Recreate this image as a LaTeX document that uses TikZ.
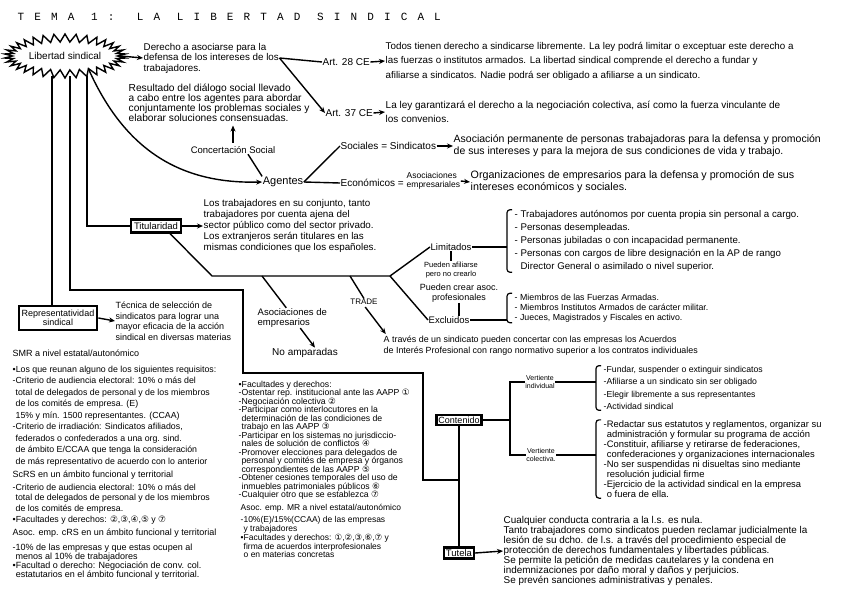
\documentclass[tikz,border=0pt]{standalone}
\usepackage{fontspec}
\setmainfont{Liberation Sans}
\newfontfamily\monofont{Liberation Mono}
\newfontfamily\circfont{DejaVu Sans}
\usepackage{tikz}
\usetikzlibrary{calc, arrows.meta, shapes.symbols}

\newcommand{\cn}[1]{{\circfont #1}}
\newcommand{\fs}[2]{\fontsize{#1}{#2}\selectfont}

\begin{document}
\begin{tikzpicture}[x=1pt, y=-1pt, >={Stealth[length=6pt, width=5pt]}, line width=1.4pt,
    txt/.style={align=left, inner sep=0pt},
    box/.style={draw, line width=2.2pt, inner sep=3pt, align=center},
    brk/.style={rounded corners=3pt, line width=1.2pt}]
    \useasboundingbox (0,0) rectangle (848,599);

    \node[anchor=west, inner sep=0pt, font=\monofont\fs{11}{12}\addfontfeature{LetterSpace=92}] (title) at (17,17) {TEMA 1: LA LIBERTAD SINDICAL};

    % libertad sindical y derecho
    \node[starburst, draw, starburst points=34, starburst point height=8pt, random starburst=0,
          minimum width=108pt, minimum height=44pt, inner sep=1pt, font=\fs{10}{11}] (lib) at (65,56) {Libertad sindical};
    \node[txt, anchor=west, font=\fs{9.8}{10.5}] (der) at (143,58) {Derecho a asociarse para la\\defensa de los intereses de los\\trabajadores.};
    \node[txt, anchor=west, font=\fs{10}{12}] (art28) at (322,62) {Art. 28 CE};
    \node[txt, anchor=west, font=\fs{10}{12}] (art37) at (325,113) {Art. 37 CE};
    \node[txt, anchor=west, font=\fs{9.8}{14.5}] (todos) at (385,61) {Todos tienen derecho a sindicarse libremente. La ley podrá limitar o exceptuar este derecho a\\las fuerzas o institutos armados. La libertad sindical comprende el derecho a fundar y\\afiliarse a sindicatos. Nadie podrá ser obligado a afiliarse a un sindicato.};
    \node[txt, anchor=west, font=\fs{10}{14.5}] (ley) at (385,112) {La ley garantizará el derecho a la negociación colectiva, así como la fuerza vinculante de\\los convenios.};

    \draw[->] (lib.east) -- (der.west);
    \draw (der.east) -- (art28.west);
    \draw[->] (der.east) -- (art37.west);
    \draw[->] (art28.east) -- (todos.west);
    \draw[->] (art37.east) -- (ley.west);

    % agentes
    \node[txt, anchor=west, font=\fs{10.2}{10}] (resul) at (128,103) {Resultado del diálogo social llevado\\a cabo entre los agentes para abordar\\conjuntamente los problemas sociales y\\elaborar soluciones consensuadas.};
    \node[txt, font=\fs{9.5}{11}] (conc) at (233,150) {Concertación Social};
    \node[txt, font=\fs{11}{12}] (agen) at (283,182) {Agentes};
    \node[txt, anchor=west, font=\fs{10}{12}] (soc) at (340,146) {Sociales = Sindicatos};
    \node[txt, anchor=west, font=\fs{10.5}{12}] (perm) at (453,146) {Asociación permanente de personas trabajadoras para la defensa y promoción\\de sus intereses y para la mejora de sus condiciones de vida y trabajo.};
    \node[txt, anchor=west, font=\fs{10}{12}] (eco) at (340,183) {Económicos =};
    \node[txt, anchor=west, font=\fs{8.5}{8.5}] (asemp) at (406,181) {Asociaciones\\empresariales};
    \node[txt, anchor=west, font=\fs{10.7}{12}] (orgemp) at (470,182) {Organizaciones de empresarios para la defensa y promoción de sus\\intereses económicos y sociales.};

    \draw[->, shorten <=3pt, shorten >=3pt] (conc.north) -- (conc.north |- resul.south);
    \draw ([xshift=15pt]conc.south) -- (agen.north west);
    \draw[->] (lib.-30) .. controls (125,150) and (180,184) .. (agen.west);
    \draw (agen.east) -- (soc.west);
    \draw (agen.east) -- (eco.west);
    \draw[->] (soc.east) -- (perm.west);
    \draw[->] (asemp.east) -- (orgemp.west);

    % titularidad
    \node[box, font=\fs{9.5}{11}] (tit) at (156,226) {Titularidad};
    \node[txt, anchor=west, font=\fs{9.8}{11}] (titp) at (203,226) {Los trabajadores en su conjunto, tanto\\trabajadores por cuenta ajena del\\sector público como del sector privado.\\Los extranjeros serán titulares en las\\mismas condiciones que los españoles.};
    \coordinate (tb1) at (212,276);
    \coordinate (tb2) at (390,276);
    \coordinate (ta) at (262,276);
    \coordinate (tt) at (350,276);
    \node[txt, anchor=west, font=\fs{9.5}{11}] (lim) at (430,247) {Limitados};
    \node[txt, align=center, font=\fs{7.5}{9}] (pueaf) at (451,270) {Pueden afiliarse\\pero no crearlo};
    \node[txt, align=center, font=\fs{9}{10}] (puecr) at (459,293) {Pueden crear asoc.\\profesionales};
    \node[txt, anchor=west, font=\fs{9.5}{11}] (exc) at (428,320) {Excluidos};
    \node[txt, anchor=west, font=\fs{9.7}{13}] (liml) at (514,241) {- Trabajadores autónomos por cuenta propia sin personal a cargo.\\- Personas desempleadas.\\- Personas jubiladas o con incapacidad permanente.\\- Personas con cargos de libre designación en la AP de rango\\\phantom{- }Director General o asimilado o nivel superior.};
    \node[txt, anchor=west, font=\fs{8.8}{10}] (excl) at (514,308) {- Miembros de las Fuerzas Armadas.\\- Miembros Institutos Armados de carácter militar.\\- Jueces, Magistrados y Fiscales en activo.};
    \node[txt, anchor=west, font=\fs{9.5}{10}] (asoc) at (257,318) {Asociaciones de\\empresarios};
    \node[txt, font=\fs{10}{12}] (noamp) at (305,353) {No amparadas};
    \node[txt, font=\fs{8}{10}] (trade) at (364,302) {TRADE};
    \node[txt, anchor=west, font=\fs{8.9}{11}] (tradep) at (383,346) {A través de un sindicato pueden concertar con las empresas los Acuerdos\\de Interés Profesional con rango normativo superior a los contratos individuales};

    \draw[->] (tit.east) -- (titp.west);
    \draw ([xshift=14pt]tit.south) -- (tb1) -- (tb2);
    \draw (tb2) -- (lim.west);
    \draw (tb2) -- (exc.west);
    \draw (lim.south) -- (lim.south |- pueaf.north);
    \draw (puecr.south) -- (puecr.south |- exc.north);
    \coordinate (limbr) at ([xshift=-7pt]liml.west);
    \coordinate (excbr) at ([xshift=-7pt]excl.west);
    \draw[brk] ([xshift=-2pt]liml.north west) -| ([xshift=-7pt]liml.south west) -- ([xshift=-2pt]liml.south west);
    \draw[brk] ([xshift=-2pt]excl.north west) -| ([xshift=-7pt]excl.south west) -- ([xshift=-2pt]excl.south west);
    \draw (lim.east) -- (lim.east -| limbr);
    \draw (exc.east) -- (exc.east -| excbr);
    \draw (ta) -- ([xshift=-6pt]asoc.north);
    \draw[->] ([xshift=8pt]asoc.south) -- ([xshift=10pt]noamp.north);
    \draw (tt) -- (trade.north);
    \draw[->, shorten <=2pt, shorten >=2pt] (trade.south) -- ([xshift=4pt]tradep.north west);

    % representatividad
    \node[box, inner ysep=4pt, font=\fs{9}{9.5}] (rep) at (58,318) {Representatividad\\sindical};
    \node[txt, anchor=west, font=\fs{9}{10.5}] (tec) at (115,321) {Técnica de selección de\\sindicatos para lograr una\\mayor eficacia de la acción\\sindical en diversas materias};
    \draw[->] (rep.east) -- (tec.west);

    \node[txt, anchor=west, font=\fs{9}{11}] (smrt) at (12,353) {SMR a nivel estatal/autonómico};
    \node[txt, anchor=west, font=\fs{8.8}{11.5}] (smrl) at (12,416) {•Los que reunan alguno de los siguientes requisitos:\\-Criterio de audiencia electoral: 10\% o más del\\\phantom{-}total de delegados de personal y de los miembros\\\phantom{-}de los comités de empresa. (E)\\\phantom{-}15\% y mín. 1500 representantes. (CCAA)\\-Criterio de irradiación: Sindicatos afiliados,\\\phantom{-}federados o confederados a una org. sind.\\\phantom{-}de ámbito E/CCAA que tenga la consideración\\\phantom{-}de más representativo de acuerdo con lo anterior};
    \node[txt, anchor=west, font=\fs{9}{11}] (scrst) at (12,475) {ScRS en un ámbito funcional y territorial};
    \node[txt, anchor=west, font=\fs{8.8}{10.7}] (scrsl) at (12,504) {-Criterio de audiencia electoral: 10\% o más del\\\phantom{-}total de delegados de personal y de los miembros\\\phantom{-}de los comités de empresa.\\•Facultades y derechos: \cn{②},\cn{③},\cn{④},\cn{⑤} y \cn{⑦}};
    \node[txt, anchor=west, font=\fs{9}{11}] (asoct) at (12,533) {Asoc. emp. cRS en un ámbito funcional y territorial};
    \node[txt, anchor=west, font=\fs{9}{9}] (asocl) at (12,562) {-10\% de las empresas y que estas ocupen al\\\phantom{-}menos al 10\% de trabajadores\\•Facultad o derecho: Negociación de conv. col.\\\phantom{•}estatutarios en el ámbito funcional y territorial.};

    \node[txt, anchor=west, font=\fs{8.7}{8.5}] (fac) at (238,440) {•Facultades y derechos:\\-Ostentar rep. institucional ante las AAPP \cn{①}\\-Negociación colectiva \cn{②}\\-Participar como interlocutores en la\\\phantom{-}determinación de las condiciones de\\\phantom{-}trabajo en las AAPP \cn{③}\\-Participar en los sistemas no jurisdiccio-\\\phantom{-}nales de solución de conflictos \cn{④}\\-Promover elecciones para delegados de\\\phantom{-}personal y comités de empresa y órganos\\\phantom{-}correspondientes de las AAPP \cn{⑤}\\-Obtener cesiones temporales del uso de\\\phantom{-}inmuebles patrimoniales públicos \cn{⑥}\\-Cualquier otro que se establezca \cn{⑦}};
    \node[txt, anchor=west, font=\fs{8.5}{10}] (asocmr) at (240,508) {Asoc. emp. MR a nivel estatal/autonómico};
    \node[txt, anchor=west, font=\fs{8.5}{7.5}] (mrl) at (240,537) {-10\%(E)/15\%(CCAA) de las empresas\\\phantom{-}y trabajadores\\•Facultades y derechos: \cn{①},\cn{②},\cn{③},\cn{⑥},\cn{⑦} y\\\phantom{•}firma de acuerdos interprofesionales\\\phantom{•}o en materias concretas};

    % contenido y tutela
    \node[box, inner sep=2pt, font=\fs{9}{10}] (cont) at (459,420) {Contenido};
    \node[box, inner sep=2pt, font=\fs{9.5}{10}] (tut) at (459,553) {Tutela};
    \node[txt, align=center, font=\fs{7}{7.5}] (vind) at (540,382) {Vertiente\\individual};
    \node[txt, align=center, font=\fs{7}{7.5}] (vcol) at (541,455) {Vertiente\\colectiva.};
    \node[txt, anchor=west, font=\fs{8.7}{12.3}] (indl) at (603,388) {-Fundar, suspender o extinguir sindicatos\\-Afiliarse a un sindicato sin ser obligado\\-Elegir libremente a sus representantes\\-Actividad sindical};
    \node[txt, anchor=west, font=\fs{9.4}{10}] (coll) at (603,459) {-Redactar sus estatutos y reglamentos, organizar su\\\phantom{-}administración y formular su programa de acción\\-Constituir, afiliarse y retirarse de federaciones,\\\phantom{-}confederaciones y organizaciones internacionales\\-No ser suspendidas ni disueltas sino mediante\\\phantom{-}resolución judicial firme\\-Ejercicio de la actividad sindical en la empresa\\\phantom{-}o fuera de ella.};
    \node[txt, anchor=west, font=\fs{9.9}{10}] (tutp) at (503,551) {Cualquier conducta contraria a la l.s. es nula.\\Tanto trabajadores como sindicatos pueden reclamar judicialmente la\\lesión de su dcho. de l.s. a través del procedimiento especial de\\protección de derechos fundamentales y libertades públicas.\\Se permite la petición de medidas cautelares y la condena en\\indemnizaciones por daño moral y daños y perjuicios.\\Se prevén sanciones administrativas y penales.};

    \coordinate (cj) at (510,420);
    \coordinate (tj) at (cont.south |- 0,480);
    \coordinate (indbr) at ([xshift=-7pt]indl.west);
    \coordinate (colbr) at ([xshift=-7pt]coll.west);
    \draw (cont.east) -- (cj);
    \draw (vind.west) -| (cj) |- (vcol.west);
    \draw[brk] ([xshift=-2pt]indl.north west) -| ([xshift=-7pt]indl.south west) -- ([xshift=-2pt]indl.south west);
    \draw[brk] ([xshift=-2pt]coll.north west) -| ([xshift=-7pt]coll.south west) -- ([xshift=-2pt]coll.south west);
    \draw (vind.east) -- (vind.east -| indbr);
    \draw (vcol.east) -- (vcol.east -| colbr);
    \draw (cont.south) -- (tut.north);
    \draw[->] (tut.east) -- (tutp.west);

    % lineas desde libertad sindical
    \coordinate (ra) at ([xshift=-13pt, yshift=3pt]lib.south);
    \coordinate (rb) at ([xshift=5pt, yshift=3pt]lib.south);
    \coordinate (rc) at ([xshift=22pt, yshift=3pt]lib.south);
    \draw (ra) -- (ra |- rep.north);
    \draw (rc) |- (tit.west);
    \draw (rb) |- (243,290) |- (423,373) |- (tj);
\end{tikzpicture}
\end{document}
